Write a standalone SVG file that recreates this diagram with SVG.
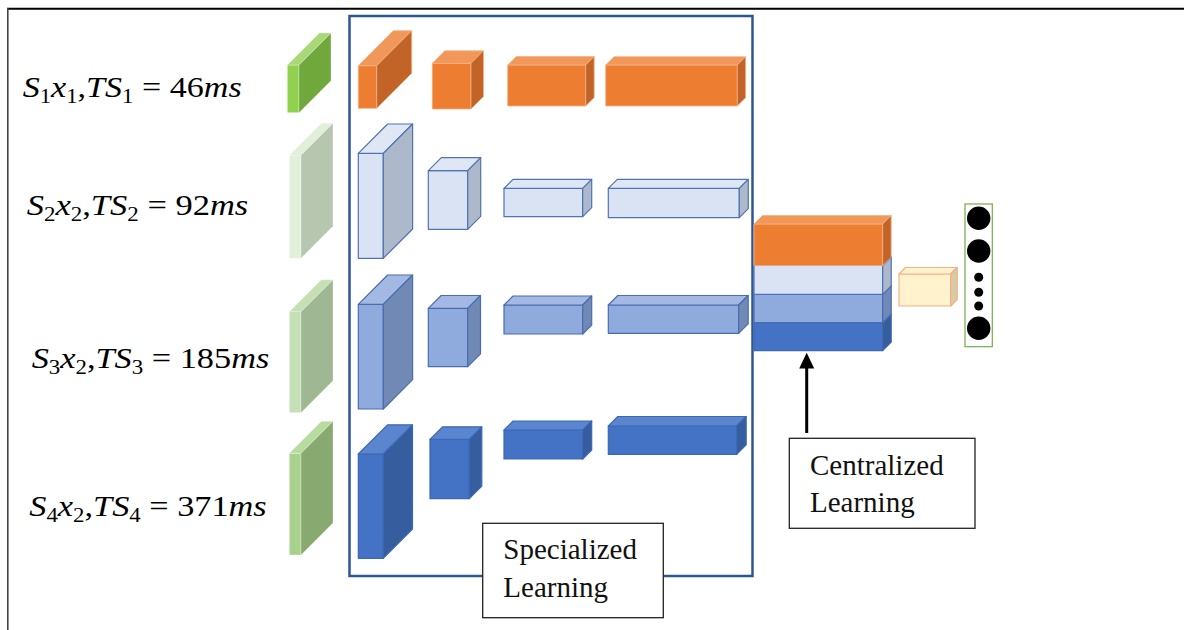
<svg xmlns="http://www.w3.org/2000/svg" width="1184" height="630" viewBox="0 0 1184 630">
  <style>
    .math { font-family: "Liberation Serif", "Times New Roman", serif; font-size: 30px; fill: #000; }
    .it { font-style: italic; }
    .sub { font-size: 20px; }
    .lbl { font-family: "Liberation Serif", "Times New Roman", serif; font-size: 29px; fill: #111; }
    .box { fill: #fff; stroke: #222; stroke-width: 1.3; }

    .or .f { fill: #ed7d31; } .or .t { fill: #f1975a; } .or .s { fill: #c26428; }
    .or * { stroke: #f4b183; stroke-width: 0.8; stroke-linejoin: round; }
    .lb .f { fill: #dae3f3; } .lb .t { fill: #dfe7f5; } .lb .s { fill: #adb9ca; }
    .lb * { stroke: #4f73b6; stroke-width: 1.2; stroke-linejoin: round; }
    .mb .f { fill: #8faadc; } .mb .t { fill: #a3b9e3; } .mb .s { fill: #7189b5; }
    .mb * { stroke: #4a6db0; stroke-width: 1.2; stroke-linejoin: round; }
    .db .f { fill: #4472c4; } .db .t { fill: #5b86cf; } .db .s { fill: #365e9f; }
    .db * { stroke: #3d68b4; stroke-width: 1.2; stroke-linejoin: round; }
    .yl .f { fill: #fff2cc; } .yl .t { fill: #fff2cc; } .yl .s { fill: #d8cba8; }
    .yl * { stroke: #f4b183; stroke-width: 1.2; stroke-linejoin: round; }

    .g1 .f { fill: #92d050; } .g1 .t { fill: #a9d977; } .g1 .s { fill: #70a83c; }
    .g2 .f { fill: #e2efda; } .g2 .t { fill: #e2efda; } .g2 .s { fill: #b7c7af; }
    .g3 .f { fill: #c5e0b4; } .g3 .t { fill: #c5e0b4; } .g3 .s { fill: #9fb792; }
    .g4 .f { fill: #a9d18e; } .g4 .t { fill: #b8dba0; } .g4 .s { fill: #88a96f; }
    .gr * { stroke: #ffffff; stroke-width: 0.6; stroke-opacity: 0.5; }
  </style>

  <!-- page frame -->
  <line x1="7" y1="8.8" x2="1184" y2="8.8" stroke="#000" stroke-width="2"/>
  <line x1="7.8" y1="8" x2="7.8" y2="630" stroke="#444" stroke-width="1.6"/>

  <!-- input labels -->
  <g id="label-s1">
    <text class="math" x="22.7" y="97" textLength="219" lengthAdjust="spacingAndGlyphs"><tspan class="it">S</tspan><tspan class="sub" dy="6">1</tspan><tspan class="it" dy="-6">x</tspan><tspan class="sub" dy="6">1</tspan><tspan dy="-6">,</tspan><tspan class="it">TS</tspan><tspan class="sub" dy="6">1</tspan><tspan dy="-6"> = 46</tspan><tspan class="it">ms</tspan></text>
  </g>
  <g id="label-s2">
    <text class="math" x="26.7" y="215" textLength="221.6" lengthAdjust="spacingAndGlyphs"><tspan class="it">S</tspan><tspan class="sub" dy="6">2</tspan><tspan class="it" dy="-6">x</tspan><tspan class="sub" dy="6">2</tspan><tspan dy="-6">,</tspan><tspan class="it">TS</tspan><tspan class="sub" dy="6">2</tspan><tspan dy="-6"> = 92</tspan><tspan class="it">ms</tspan></text>
  </g>
  <g id="label-s3">
    <text class="math" x="31.7" y="368" textLength="237.6" lengthAdjust="spacingAndGlyphs"><tspan class="it">S</tspan><tspan class="sub" dy="6">3</tspan><tspan class="it" dy="-6">x</tspan><tspan class="sub" dy="6">2</tspan><tspan dy="-6">,</tspan><tspan class="it">TS</tspan><tspan class="sub" dy="6">3</tspan><tspan dy="-6"> = 185</tspan><tspan class="it">ms</tspan></text>
  </g>
  <g id="label-s4">
    <text class="math" x="29.3" y="516" textLength="237.4" lengthAdjust="spacingAndGlyphs"><tspan class="it">S</tspan><tspan class="sub" dy="6">4</tspan><tspan class="it" dy="-6">x</tspan><tspan class="sub" dy="6">2</tspan><tspan dy="-6">,</tspan><tspan class="it">TS</tspan><tspan class="sub" dy="6">4</tspan><tspan dy="-6"> = 371</tspan><tspan class="it">ms</tspan></text>
  </g>

  <!-- input slabs -->
  <g id="input-1" class="gr g1">
    <rect class="f" x="287.3" y="65" width="11.7" height="47.7"/>
    <polygon class="t" points="287.3,65 319.3,33 331,33 299,65"/>
    <polygon class="s" points="299,65 331,33 331,80.7 299,112.7"/>
  </g>
  <g id="input-2" class="gr g2">
    <rect class="f" x="289.3" y="155.3" width="11.7" height="103"/>
    <polygon class="t" points="289.3,155.3 321.3,123.3 333,123.3 301,155.3"/>
    <polygon class="s" points="301,155.3 333,123.3 333,226.3 301,258.3"/>
  </g>
  <g id="input-3" class="gr g3">
    <rect class="f" x="289.3" y="311.7" width="11.7" height="101"/>
    <polygon class="t" points="289.3,311.7 321.3,279.7 333,279.7 301,311.7"/>
    <polygon class="s" points="301,311.7 333,279.7 333,380.7 301,412.7"/>
  </g>
  <g id="input-4" class="gr g4">
    <rect class="f" x="289.3" y="453.3" width="11.7" height="101.7"/>
    <polygon class="t" points="289.3,453.3 321.3,421.3 333,421.3 301,453.3"/>
    <polygon class="s" points="301,453.3 333,421.3 333,523 301,555"/>
  </g>

  <!-- specialized learning frame -->
  <rect id="specialized-frame" x="349.5" y="16" width="403" height="560" fill="none" stroke="#2f5597" stroke-width="2.5"/>

  <!-- branch 1 (orange) -->
  <g id="b1-l1" class="or">
    <rect class="f" x="358.3" y="65.7" width="18.4" height="42.6"/>
    <polygon class="t" points="358.3,65.7 393.3,30.7 411.7,30.7 376.7,65.7"/>
    <polygon class="s" points="376.7,65.7 411.7,30.7 411.7,73.3 376.7,108.3"/>
  </g>
  <g id="b1-l2" class="or">
    <rect class="f" x="432.3" y="63.3" width="38.7" height="45.7"/>
    <polygon class="t" points="432.3,63.3 444.8,50.8 483.5,50.8 471,63.3"/>
    <polygon class="s" points="471,63.3 483.5,50.8 483.5,96.5 471,109"/>
  </g>
  <g id="b1-l3" class="or">
    <rect class="f" x="507.7" y="65" width="78" height="41"/>
    <polygon class="t" points="507.7,65 516.2,56.5 594.2,56.5 585.7,65"/>
    <polygon class="s" points="585.7,65 594.2,56.5 594.2,97.5 585.7,106"/>
  </g>
  <g id="b1-l4" class="or">
    <rect class="f" x="605.7" y="65" width="131.6" height="41"/>
    <polygon class="t" points="605.7,65 614,56.7 745.6,56.7 737.3,65"/>
    <polygon class="s" points="737.3,65 745.6,56.7 745.6,97.7 737.3,106"/>
  </g>

  <!-- branch 2 (light blue) -->
  <g id="b2-l1" class="lb">
    <rect class="f" x="358.3" y="153.3" width="25" height="105"/>
    <polygon class="t" points="358.3,153.3 387.6,124 412.6,124 383.3,153.3"/>
    <polygon class="s" points="383.3,153.3 412.6,124 412.6,229 383.3,258.3"/>
  </g>
  <g id="b2-l2" class="lb">
    <rect class="f" x="428.3" y="170.7" width="39.4" height="58.6"/>
    <polygon class="t" points="428.3,170.7 441.3,157.7 480.7,157.7 467.7,170.7"/>
    <polygon class="s" points="467.7,170.7 480.7,157.7 480.7,216.3 467.7,229.3"/>
  </g>
  <g id="b2-l3" class="lb">
    <rect class="f" x="504" y="188.3" width="78.7" height="28.4"/>
    <polygon class="t" points="504,188.3 513,179.3 591.7,179.3 582.7,188.3"/>
    <polygon class="s" points="582.7,188.3 591.7,179.3 591.7,207.7 582.7,216.7"/>
  </g>
  <g id="b2-l4" class="lb">
    <rect class="f" x="608.3" y="188.3" width="131" height="29.4"/>
    <polygon class="t" points="608.3,188.3 617.3,179.3 748.3,179.3 739.3,188.3"/>
    <polygon class="s" points="739.3,188.3 748.3,179.3 748.3,208.7 739.3,217.7"/>
  </g>

  <!-- branch 3 (medium blue) -->
  <g id="b3-l1" class="mb">
    <rect class="f" x="358.3" y="304.3" width="25" height="104.7"/>
    <polygon class="t" points="358.3,304.3 387.6,275 412.6,275 383.3,304.3"/>
    <polygon class="s" points="383.3,304.3 412.6,275 412.6,379.7 383.3,409"/>
  </g>
  <g id="b3-l2" class="mb">
    <rect class="f" x="428.3" y="308.3" width="39.4" height="58.4"/>
    <polygon class="t" points="428.3,308.3 441.1,295.5 480.5,295.5 467.7,308.3"/>
    <polygon class="s" points="467.7,308.3 480.5,295.5 480.5,353.9 467.7,366.7"/>
  </g>
  <g id="b3-l3" class="mb">
    <rect class="f" x="504" y="305" width="78.7" height="29"/>
    <polygon class="t" points="504,305 513,296 591.7,296 582.7,305"/>
    <polygon class="s" points="582.7,305 591.7,296 591.7,325 582.7,334"/>
  </g>
  <g id="b3-l4" class="mb">
    <rect class="f" x="608.3" y="305" width="130.4" height="28.3"/>
    <polygon class="t" points="608.3,305 617.8,295.5 748.2,295.5 738.7,305"/>
    <polygon class="s" points="738.7,305 748.2,295.5 748.2,323.8 738.7,333.3"/>
  </g>

  <!-- branch 4 (dark blue) -->
  <g id="b4-l1" class="db">
    <rect class="f" x="358.3" y="454" width="25" height="104.3"/>
    <polygon class="t" points="358.3,454 387.5,424.8 412.5,424.8 383.3,454"/>
    <polygon class="s" points="383.3,454 412.5,424.8 412.5,529.1 383.3,558.3"/>
  </g>
  <g id="b4-l2" class="db">
    <rect class="f" x="430" y="439.3" width="39.3" height="59.4"/>
    <polygon class="t" points="430,439.3 442.5,426.8 481.8,426.8 469.3,439.3"/>
    <polygon class="s" points="469.3,439.3 481.8,426.8 481.8,486.2 469.3,498.7"/>
  </g>
  <g id="b4-l3" class="db">
    <rect class="f" x="504" y="430" width="78.7" height="29"/>
    <polygon class="t" points="504,430 513,421 591.7,421 582.7,430"/>
    <polygon class="s" points="582.7,430 591.7,421 591.7,450 582.7,459"/>
  </g>
  <g id="b4-l4" class="db">
    <rect class="f" x="608.3" y="426" width="128.4" height="28.3"/>
    <polygon class="t" points="608.3,426 617.8,416.5 746.2,416.5 736.7,426"/>
    <polygon class="s" points="736.7,426 746.2,416.5 746.2,444.8 736.7,454.3"/>
  </g>

  <!-- specialized learning caption -->
  <g id="specialized-label">
    <rect class="box" x="482.7" y="523.3" width="180.6" height="94.4"/>
    <text class="lbl" x="503.3" y="559">Specialized</text>
    <text class="lbl" x="503.3" y="597">Learning</text>
  </g>

  <!-- concatenated feature stack -->
  <g id="concat">
    <g class="db">
      <rect class="f" x="754" y="322.7" width="128.7" height="28"/>
      <polygon class="t" points="754,322.7 762.5,314.2 891.2,314.2 882.7,322.7"/>
      <polygon class="s" points="882.7,322.7 891.2,314.2 891.2,342.2 882.7,350.7"/>
    </g>
    <g class="mb">
      <rect class="f" x="754" y="294.3" width="128.7" height="28.4"/>
      <polygon class="t" points="754,294.3 762.5,285.8 891.2,285.8 882.7,294.3"/>
      <polygon class="s" points="882.7,294.3 891.2,285.8 891.2,314.2 882.7,322.7"/>
    </g>
    <g class="lb">
      <rect class="f" x="754" y="265.5" width="128.7" height="28.8"/>
      <polygon class="t" points="754,265.5 762.5,257 891.2,257 882.7,265.5"/>
      <polygon class="s" points="882.7,265.5 891.2,257 891.2,285.8 882.7,294.3"/>
    </g>
    <g class="or">
      <rect class="f" x="754" y="224" width="128.7" height="41.5"/>
      <polygon class="t" points="754,224 762.5,215.5 891.2,215.5 882.7,224"/>
      <polygon class="s" points="882.7,224 891.2,215.5 891.2,257 882.7,265.5"/>
    </g>
  </g>

  <!-- dense layer -->
  <g id="dense" class="yl">
    <rect class="f" x="899" y="274" width="51.7" height="32"/>
    <polygon class="t" points="899,274 905.5,267.5 957.2,267.5 950.7,274"/>
    <polygon class="s" points="950.7,274 957.2,267.5 957.2,299.5 950.7,306"/>
  </g>

  <!-- output neurons -->
  <g id="output">
    <rect x="965" y="204" width="27.3" height="142.7" fill="#fff" stroke="#70ad47" stroke-width="1.2"/>
    <circle cx="978.7" cy="218.3" r="11.7" fill="#000"/>
    <circle cx="978.7" cy="251" r="11.7" fill="#000"/>
    <circle cx="978.7" cy="277.3" r="4.5" fill="#000"/>
    <circle cx="978.7" cy="292.3" r="4.5" fill="#000"/>
    <circle cx="978.7" cy="306" r="4.5" fill="#000"/>
    <circle cx="978.7" cy="328.3" r="11.7" fill="#000"/>
  </g>

  <!-- connectors -->
  <g id="connectors">
    <line x1="806.7" y1="433" x2="806.7" y2="366" stroke="#000" stroke-width="3"/>
    <polygon points="806.7,352.7 799.2,368.5 814.2,368.5" fill="#000"/>
  </g>

  <!-- centralized learning caption -->
  <g id="centralized-label">
    <rect class="box" x="789.3" y="438.3" width="185.7" height="90"/>
    <text class="lbl" x="810" y="475">Centralized</text>
    <text class="lbl" x="810" y="512">Learning</text>
  </g>
</svg>
